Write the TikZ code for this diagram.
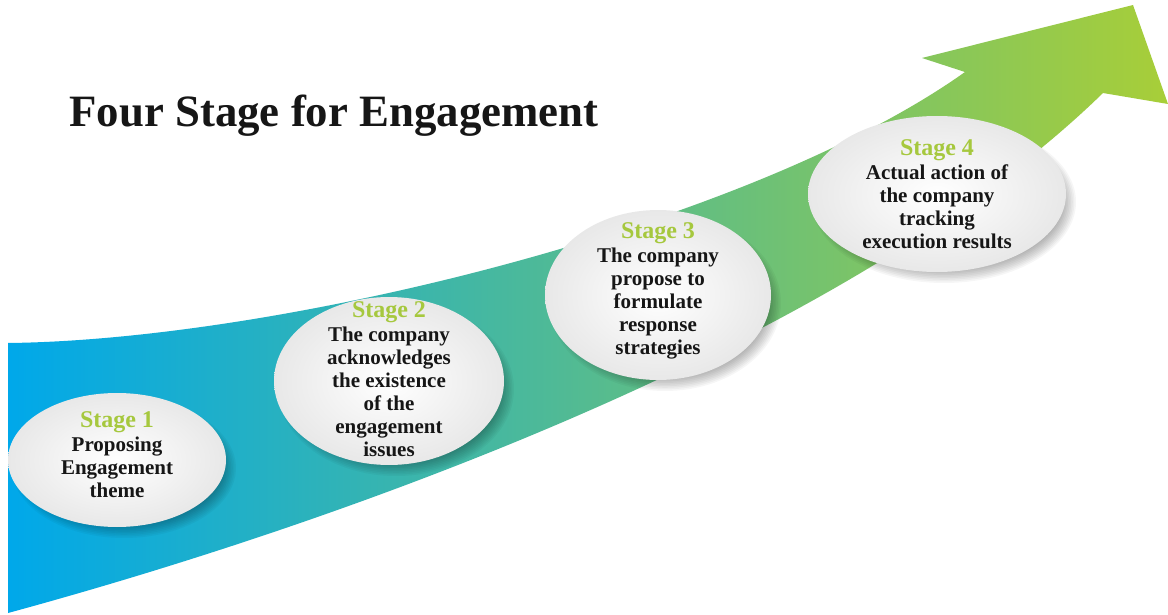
\documentclass[tikz,border=0pt]{standalone}
\usepackage{fontspec}
\setmainfont{Liberation Serif}
\usetikzlibrary{shapes.geometric}

\definecolor{bandblue}{RGB}{0,168,234}
\definecolor{bandteal}{RGB}{66,190,172}
\definecolor{bandlime}{RGB}{168,206,56}
\definecolor{stagegreen}{RGB}{166,200,62}
\definecolor{inktext}{RGB}{22,22,22}

\newcommand{\stagehead}[1]{{\color{stagegreen}\fontsize{24}{24}\selectfont #1}}

\begin{document}
\begin{tikzpicture}[x=1pt,y=-1pt,
    band/.style={left color=bandblue,middle color=bandteal,right color=bandlime,draw=none},
    stage/.style={ellipse,inner sep=0pt,inner color=white,outer color=black!9},
    stagetext/.style={align=center,text=inktext,font=\bfseries\fontsize{21}{23}\selectfont},
    title/.style={anchor=base west,text=inktext,font=\bfseries\fontsize{44.8}{50}\selectfont}]

  \useasboundingbox[fill=white] (0,0) rectangle (1168,615);

  % rising arrow
  \shade[band] (8,343) .. controls (280,340) and (750,225) .. (965,72)
        -- (922,58) -- (1133,5) -- (1168,104) -- (1103,93)
        .. controls (850,340) and (350,520) .. (8,613) -- cycle;

  \node[title] (title) at (66,127) {Four Stage for Engagement};

  % stages, each with a soft shadow
  \foreach \i/\cx/\cy/\rx/\ry/\up/\body in {
      1/117/460/109/67/5/{Proposing\\Engagement\\theme},
      2/389/381/115/84/2/{The company\\acknowledges\\the existence\\of the\\engagement\\issues},
      3/658/295/113/85/4/{The company\\propose to\\formulate\\response\\strategies},
      4/937/194/129/78/0/{Actual action of\\the company\\tracking\\execution results}}{
    \foreach \k in {0,...,9}
      \fill[black,opacity=0.035] (\cx+7,\cy+8) ellipse ({\rx+3-\k*1.6} and {\ry+3-\k*1.6});
    \node[stage,minimum width=2*\rx pt,minimum height=2*\ry pt] (st\i) at (\cx,\cy) {};
    \node[stagetext] (txt\i) at ([yshift=\up pt]st\i.center) {\stagehead{Stage \i}\\[1pt]\body};
  }
\end{tikzpicture}
\end{document}
